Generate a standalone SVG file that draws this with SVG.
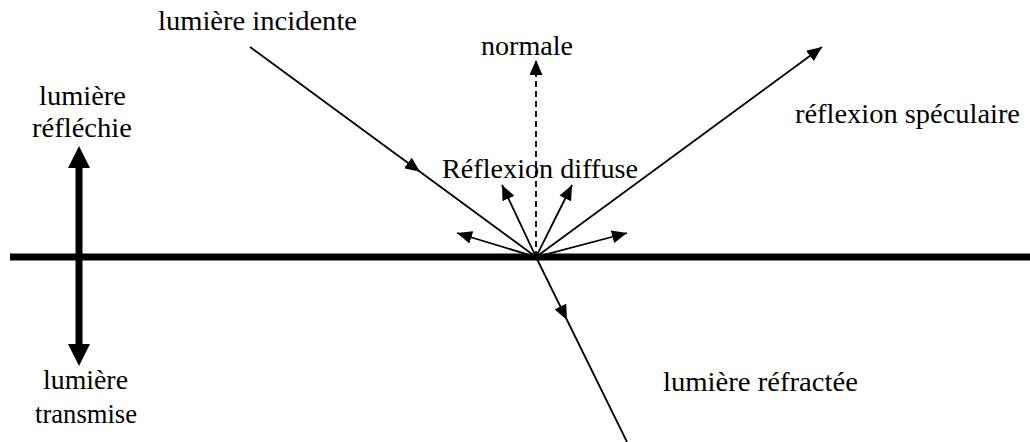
<svg xmlns="http://www.w3.org/2000/svg" width="1030" height="442" viewBox="0 0 1030 442">
<style>
.t{font-family:'Liberation Serif', 'Times New Roman', Times, serif;font-size:28px;fill:#000}
.ln{stroke:#000;stroke-width:1.8;fill:none}
</style>
<defs>
<marker id="ah" markerUnits="userSpaceOnUse" viewBox="0 0 15 13" refX="15" refY="6.5" markerWidth="15" markerHeight="13" orient="auto">
<path d="M0,0 L15,6.5 L0,13 z" fill="#000"/>
</marker>
</defs>
<rect width="1030" height="442" fill="#fff"/>
<g id="connectors">
<line x1="10" y1="257" x2="1030" y2="257" stroke="#000" stroke-width="7"/>
<path class="ln" d="M250,47 L420,171.8 L536,257" marker-mid="url(#ah)"/>
<path class="ln" d="M536,257 L567,320 L627,442" marker-mid="url(#ah)"/>
<line class="ln" x1="536" y1="257" x2="536" y2="60" stroke-dasharray="6,4" marker-end="url(#ah)"/>
<line class="ln" x1="536" y1="257" x2="822" y2="47" marker-end="url(#ah)"/>
<line class="ln" x1="536" y1="257" x2="457" y2="233" marker-end="url(#ah)"/>
<line class="ln" x1="536" y1="257" x2="502" y2="185" marker-end="url(#ah)"/>
<line class="ln" x1="536" y1="257" x2="572" y2="185" marker-end="url(#ah)"/>
<line class="ln" x1="536" y1="257" x2="627" y2="233" marker-end="url(#ah)"/>
<g id="double-arrow">
<line x1="79" y1="166" x2="79" y2="346" stroke="#000" stroke-width="7"/>
<path d="M79,146 L90,168 L68,168 z" fill="#000"/>
<path d="M79,366 L90,344 L68,344 z" fill="#000"/>
</g>
</g>
<g id="incident"><text class="t" x="158" y="30" textLength="199" lengthAdjust="spacingAndGlyphs">lumière incidente</text></g>
<g id="normal"><text class="t" x="481" y="55" textLength="92" lengthAdjust="spacingAndGlyphs">normale</text></g>
<g id="reflected"><text class="t" x="39" y="105" textLength="87" lengthAdjust="spacingAndGlyphs">lumière</text><text class="t" x="32" y="137" textLength="100" lengthAdjust="spacingAndGlyphs">réfléchie</text></g>
<g id="diffuse"><text class="t" x="442" y="178" textLength="196" lengthAdjust="spacingAndGlyphs">Réflexion diffuse</text></g>
<g id="specular"><text class="t" x="795" y="123" textLength="225" lengthAdjust="spacingAndGlyphs">réflexion spéculaire</text></g>
<g id="refracted"><text class="t" x="663" y="391" textLength="195" lengthAdjust="spacingAndGlyphs">lumière réfractée</text></g>
<g id="transmitted"><text class="t" x="43" y="389" textLength="85" lengthAdjust="spacingAndGlyphs">lumière</text><text class="t" x="35" y="423" textLength="102" lengthAdjust="spacingAndGlyphs">transmise</text></g>
</svg>
